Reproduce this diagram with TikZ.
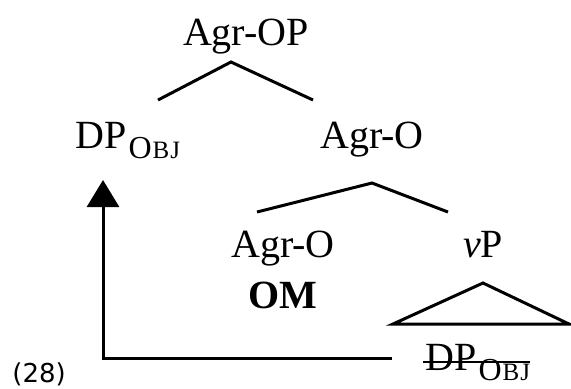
\documentclass[tikz,border=0pt]{standalone}
\usepackage{fontspec}
\setmainfont{Liberation Serif}
\newfontfamily\numfont{DejaVu Sans}
\usetikzlibrary{arrows.meta, positioning, calc}

% subscript OBJ in small capitals
\newcommand{\objsub}{\kern1pt\raisebox{-5pt}{{\fontsize{16}{16}\selectfont O}\kern0.5pt{\fontsize{12.5}{12.5}\selectfont B\kern0.5pt J}}}

\begin{document}
\begin{tikzpicture}[
    x=0.5pt, y=-0.5pt,
    lab/.style={font=\fontsize{20}{24}\selectfont, inner sep=0pt, anchor=base},
    branch/.style={line width=1.5pt},
    strike/.style={line width=0.6pt},
    arrow/.style={line width=1.5pt, line join=miter, -{Triangle[length=13.5pt,width=16pt]}}
]
    \useasboundingbox (0,0) rectangle (571,388);

    % Nodes
    \node (aop) [lab] at (246,45) {Agr-OP};
    \node (dpu) [lab, anchor=base west] at (75,148) {DP\objsub};
    \node (ao) [lab] at (372,148) {Agr-O};
    \node (aol) [lab] at (283,257) {Agr-O};
    \node (om) [lab, font=\fontsize{20}{24}\selectfont\bfseries] at (283,308) {OM};
    \node (vp) [lab] at (483,257) {\textit{v}P};
    \node (dpl) [lab, anchor=base west] at (425,370) {DP\objsub};
    \node (num) [lab, anchor=base west, font=\numfont\fontsize{13}{15}\selectfont] at (12,382) {(28)};

    % Branch points
    \coordinate (aop-top) at (231,62);
    \coordinate (aop-l) at (158,100);
    \coordinate (aop-r) at (313,100);
    \coordinate (ao-top) at (372,183);
    \coordinate (ao-l) at (257,212);
    \coordinate (ao-r) at (448,212);
    \coordinate (vp-top) at (483,283);
    \coordinate (vp-l) at (393,324);
    \coordinate (vp-r) at (569,324);
    \coordinate (move-start) at (392,358);
    \coordinate (move-end) at (103,180);

    % Branches
    \draw [branch] (aop-l) -- (aop-top) -- (aop-r);
    \draw [branch] (ao-l) -- (ao-top) -- (ao-r);
    \draw [branch] (vp-l) -- (vp-top) -- (vp-r) -- cycle;

    % Movement
    \draw [strike] ($(dpl.base west)+(-2,-8)$) -- ($(dpl.base east)+(0,-8)$);
    \draw [arrow] (move-start) -| (move-end);

\end{tikzpicture}
\end{document}
